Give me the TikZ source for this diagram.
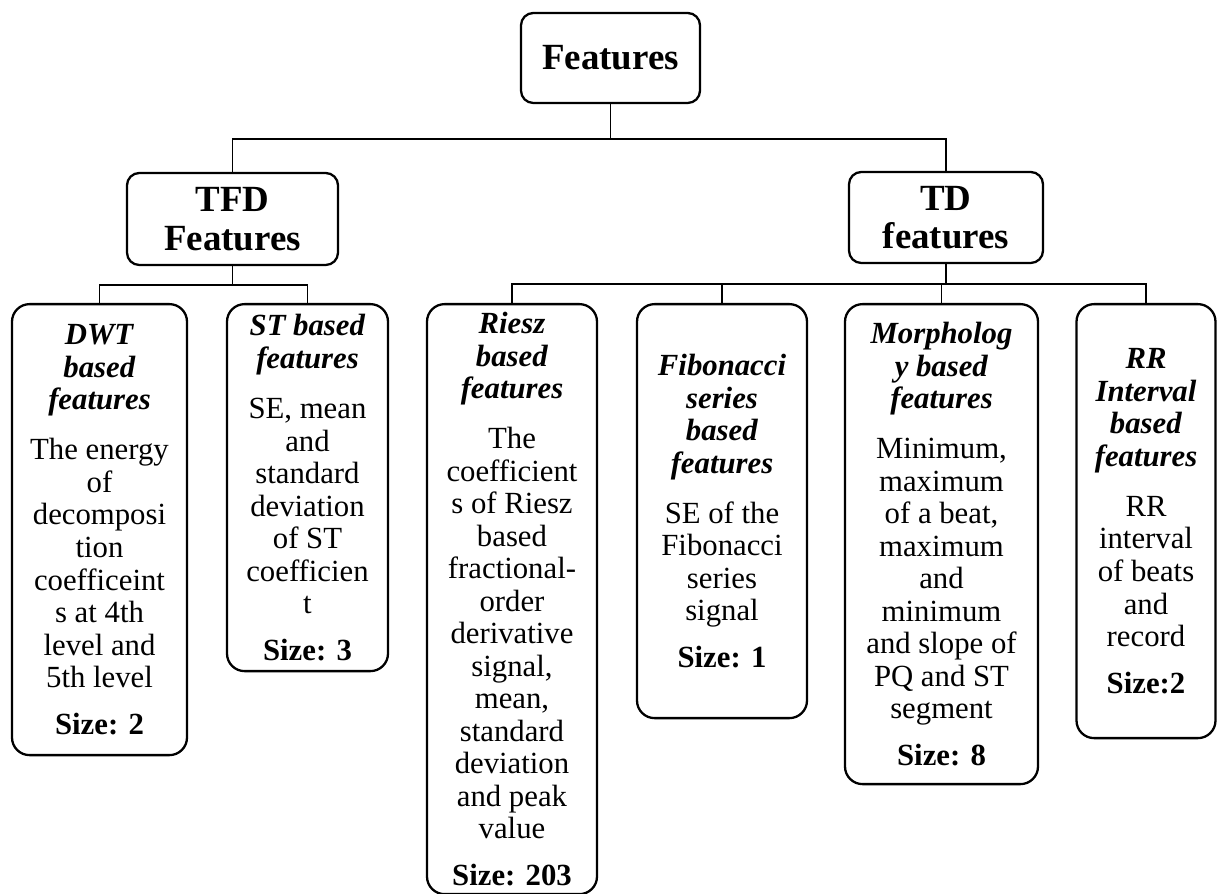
\documentclass[tikz,border=0pt]{standalone}
\usepackage{fontspec}
\setmainfont{Liberation Serif}
\usetikzlibrary{positioning, calc}

% bold italic line of a leaf heading
\newcommand{\lhead}[1]{\textbf{\textit{#1}}}

\begin{document}
\begin{tikzpicture}[
  head/.style={draw, line width=1.3pt, rounded corners=7pt, align=center,
    font=\fontsize{21}{22}\selectfont\bfseries, inner sep=2pt},
  leaf/.style={draw, line width=1.3pt, rounded corners=10pt, align=center,
    anchor=north, font=\fontsize{17.5}{18.5}\selectfont, inner sep=2pt},
  conn/.style={line width=0.9pt, black},
]

% Page frame
\useasboundingbox (0,0) rectangle (24.36,17.88);

% === Root ===
\node[head, minimum width=3.58cm, minimum height=1.8cm] (feat) at (12.21,16.72)
  {Features};

% === Second level ===
\node[head, minimum width=4.22cm, minimum height=1.84cm] (tfd) at (4.65,13.5)
  {TFD\\Features};
\node[head, minimum width=3.88cm, minimum height=1.82cm] (td) at (18.92,13.53)
  {TD\\features};

% === TFD leaves ===
\node[leaf, minimum width=3.5cm, minimum height=9.02cm] (dwt) at (1.99,11.82)
  {\lhead{DWT}\\\lhead{based}\\\lhead{features}\\[10pt]
   The energy\\of\\decomposi\\tion\\coefficeint\\s at 4th\\level and\\5th level\\[8pt]
   \textbf{Size: 2}};
\node[leaf, minimum width=3.22cm, minimum height=7.34cm] (st) at (6.15,11.82)
  {\lhead{ST based}\\\lhead{features}\\[10pt]
   SE, mean\\and\\standard\\deviation\\of ST\\coefficien\\t\\[8pt]
   \textbf{Size: 3}};

% === TD leaves ===
\node[leaf, minimum width=3.4cm, minimum height=11.8cm] (riesz) at (10.24,11.82)
  {\lhead{Riesz}\\\lhead{based}\\\lhead{features}\\[10pt]
   The\\coefficient\\s of Riesz\\based\\fractional-\\order\\derivative\\signal,\\mean,\\standard\\deviation\\and peak\\value\\[8pt]
   \textbf{Size: 203}};
\node[leaf, minimum width=3.4cm, minimum height=8.28cm] (fib) at (14.44,11.82)
  {\lhead{Fibonacci}\\\lhead{series}\\\lhead{based}\\\lhead{features}\\[10pt]
   SE of the\\Fibonacci\\series\\signal\\[8pt]
   \textbf{Size: 1}};
\node[leaf, minimum width=3.86cm, minimum height=9.6cm] (morph) at (18.83,11.82)
  {\lhead{Morpholog}\\\lhead{y based}\\\lhead{features}\\[10pt]
   Minimum,\\maximum\\of a beat,\\maximum\\and\\minimum\\and slope of\\PQ and ST\\segment\\[8pt]
   \textbf{Size: 8}};
\node[leaf, minimum width=2.78cm, minimum height=8.68cm] (rr) at (22.92,11.82)
  {\lhead{RR}\\\lhead{Interval}\\\lhead{based}\\\lhead{features}\\[10pt]
   RR\\interval\\of beats\\and\\record\\[8pt]
   \textbf{Size:2}};

% === Connectors ===
\draw[conn] (feat.south) -- ++(0,-0.7) coordinate (featsplit);
\draw[conn] (tfd.north) |- (featsplit) -| (td.north);

\draw[conn] (tfd.south) -- ++(0,-0.38) coordinate (tfdsplit);
\draw[conn] (dwt.north) |- (tfdsplit) -| (st.north);

\draw[conn] (td.south) -- ++(0,-0.4) coordinate (tdsplit);
\draw[conn] (riesz.north) |- (tdsplit) -| (rr.north);
\foreach \n in {fib, morph}
  \draw[conn] (\n.north) -- (\n.north |- tdsplit);

\end{tikzpicture}
\end{document}
